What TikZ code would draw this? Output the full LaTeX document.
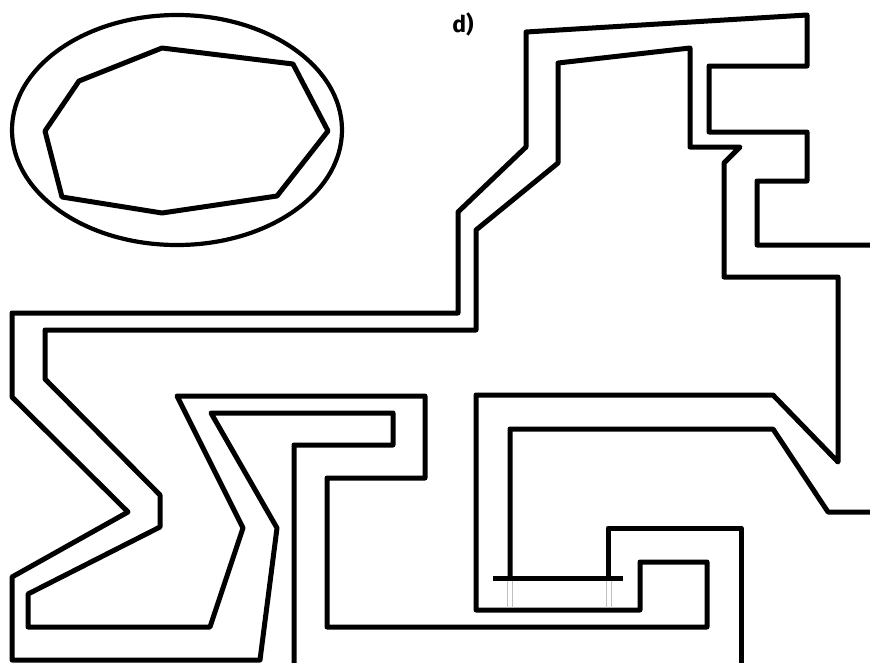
\documentclass[tikz,border=0pt]{standalone}
\usepackage{fontspec}
\newfontfamily\labelfont{Fira Sans}
\begin{document}
\begin{tikzpicture}[x=1pt,y=-1pt,
  wall/.style={line width=5pt,line join=round,line cap=round,black},
  rim/.style={line width=4.2pt,black},
  hair/.style={line width=0.6pt,black!25},
  bar/.style={line width=5pt,line cap=butt,black}]
\useasboundingbox (0,0) rectangle (870,662);
% ellipse with inner polygon
\draw[rim] (177,130) ellipse [x radius=165, y radius=115];
\draw[wall] (162,48) -- (293,64) -- (328,131) -- (277,196) -- (162,213) -- (62,197) -- (45,131) -- (79,81) -- cycle;
% label
\node[inner sep=0pt] (lab) at (463,24) {\labelfont\fontsize{23}{26}\selectfont\bfseries d)};
% outer line
\draw[wall] (872,245) -- (757,245) -- (757,181) -- (807,181) -- (807,132) -- (709,132) -- (709,66) -- (807,66) -- (807,15) -- (526,32) -- (526,147) -- (458,212) -- (458,313) -- (12,313) -- (12,397) -- (128,512) -- (12,577) -- (12,660) -- (260,660) -- (277,528) -- (211,413) -- (393,413) -- (393,445) -- (294,445) -- (294,665);
% closed inner line
\draw[wall] (707,627) -- (327,627) -- (327,478) -- (425,478) -- (425,396) -- (177,396) -- (243,528) -- (210,627) -- (28,627) -- (28,594) -- (160,527) -- (160,495) -- (45,379) -- (45,330) -- (476,330) -- (476,230) -- (558,163) -- (558,63) -- (690,48) -- (690,147) -- (740,147) -- (724,163) -- (724,277) -- (838,277) -- (838,462) -- (773,395) -- (476,395) -- (476,610) -- (640,610) -- (640,562) -- (707,562) -- cycle;
% third line
\draw[wall] (872,512) -- (828,512) -- (773,429) -- (510,429) -- (510,578);
% fourth line
\draw[wall] (608,578) -- (608,528) -- (741,528) -- (741,665);
% bar
\draw[bar] (493,578) -- (623,578);
% thin guides
\draw[hair] (507,581) -- (507,608);
\draw[hair] (512,581) -- (512,608);
\draw[hair] (606,581) -- (606,608);
\draw[hair] (611,581) -- (611,608);
\end{tikzpicture}
\end{document}
